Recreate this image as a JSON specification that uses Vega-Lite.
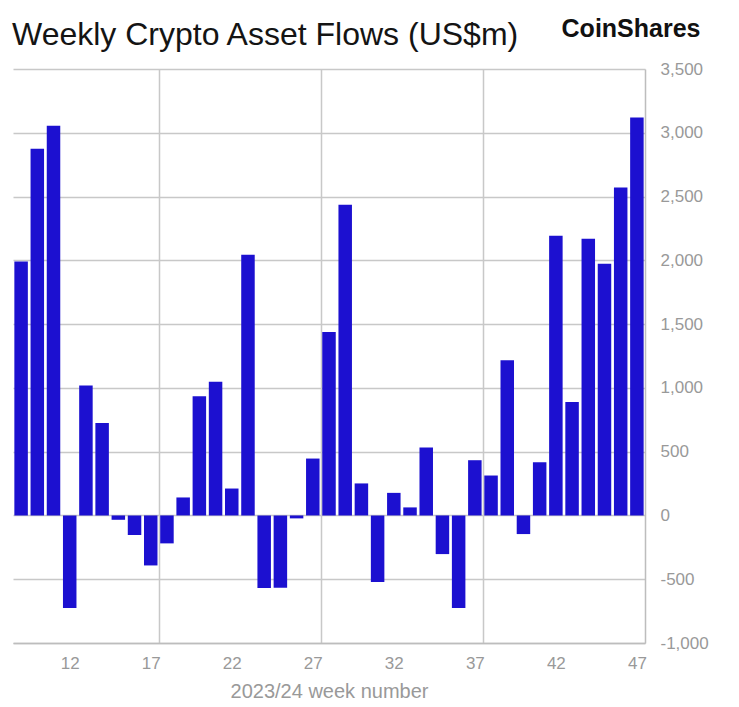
{
  "$schema": "https://vega.github.io/schema/vega-lite/v6.json",
  "width": 632,
  "height": 574,
  "autosize": "none",
  "padding": {"left": 13, "top": 69, "right": 94, "bottom": 64},
  "background": "white",
  "title": {
    "text": "Weekly Crypto Asset Flows (US$m)",
    "anchor": "start",
    "frame": "group",
    "font": "Liberation Sans",
    "fontSize": 32,
    "fontWeight": "normal",
    "color": "#141414",
    "baseline": "alphabetic",
    "offset": -61,
    "dx": -1
  },
  "data": {
    "values": [
      {"week": 9, "flow": 1990},
      {"week": 10, "flow": 2874},
      {"week": 11, "flow": 3056},
      {"week": 12, "flow": -726},
      {"week": 13, "flow": 1018},
      {"week": 14, "flow": 725},
      {"week": 15, "flow": -34},
      {"week": 16, "flow": -154},
      {"week": 17, "flow": -392},
      {"week": 18, "flow": -219},
      {"week": 19, "flow": 141},
      {"week": 20, "flow": 934},
      {"week": 21, "flow": 1049},
      {"week": 22, "flow": 211},
      {"week": 23, "flow": 2044},
      {"week": 24, "flow": -569},
      {"week": 25, "flow": -567},
      {"week": 26, "flow": -23},
      {"week": 27, "flow": 446},
      {"week": 28, "flow": 1438},
      {"week": 29, "flow": 2435},
      {"week": 30, "flow": 251},
      {"week": 31, "flow": -522},
      {"week": 32, "flow": 177},
      {"week": 33, "flow": 63},
      {"week": 34, "flow": 532},
      {"week": 35, "flow": -303},
      {"week": 36, "flow": -726},
      {"week": 37, "flow": 433},
      {"week": 38, "flow": 313},
      {"week": 39, "flow": 1216},
      {"week": 40, "flow": -146},
      {"week": 41, "flow": 417},
      {"week": 42, "flow": 2193},
      {"week": 43, "flow": 890},
      {"week": 44, "flow": 2169},
      {"week": 45, "flow": 1973},
      {"week": 46, "flow": 2571},
      {"week": 47, "flow": 3119}
    ]
  },
  "mark": {"type": "bar", "width": 13.5, "color": "#1c10d0"},
  "encoding": {
    "x": {
      "field": "week",
      "type": "quantitative",
      "scale": {"domain": [8.5, 47.5], "nice": false, "zero": false, "padding": 0},
      "axis": {
        "values": [12, 17, 17.5, 22, 27, 27.5, 32, 37, 37.5, 42, 47],
        "labelExpr": "datum.value % 1 ? '' : datum.label",
        "title": "2023/24 week number",
        "titleFont": "Liberation Sans",
        "titleFontSize": 20,
        "titleFontWeight": "normal",
        "titleColor": "#999999",
        "titlePadding": 10,
        "labelFont": "Liberation Sans",
        "labelFontSize": 17,
        "labelColor": "#999999",
        "labelPadding": 12,
        "labelFlush": false,
        "labelOverlap": false,
        "ticks": false,
        "domain": true,
        "domainColor": "#bdbdbd",
        "domainWidth": 1.5,
        "grid": true,
        "gridColor": "#c8c8c8",
        "gridWidth": 1.5,
        "gridOpacity": {"condition": {"test": "datum.value % 1 === 0", "value": 0}, "value": 1}
      }
    },
    "y": {
      "field": "flow",
      "type": "quantitative",
      "scale": {"domain": [-1000, 3500], "nice": false},
      "axis": {
        "orient": "right",
        "values": [-1000, -500, 0, 500, 1000, 1500, 2000, 2500, 3000, 3500],
        "labelExpr": "replace(format(datum.value, ','), '\u2212', '-')",
        "labelFont": "Liberation Sans",
        "labelFontSize": 17,
        "labelColor": "#999999",
        "labelAlign": "left",
        "labelPadding": 15,
        "ticks": false,
        "domain": true,
        "domainColor": "#bdbdbd",
        "domainWidth": 1.5,
        "grid": true,
        "gridColor": "#c8c8c8",
        "gridWidth": 1.5,
        "title": "CoinShares",
        "titleFont": "Liberation Sans",
        "titleFontSize": 25,
        "titleFontWeight": "bold",
        "titleColor": "#111111",
        "titleAngle": 0,
        "titleAlign": "right",
        "titleBaseline": "alphabetic",
        "titleX": 55,
        "titleY": -33
      }
    }
  },
  "config": {"view": {"stroke": null}}
}
